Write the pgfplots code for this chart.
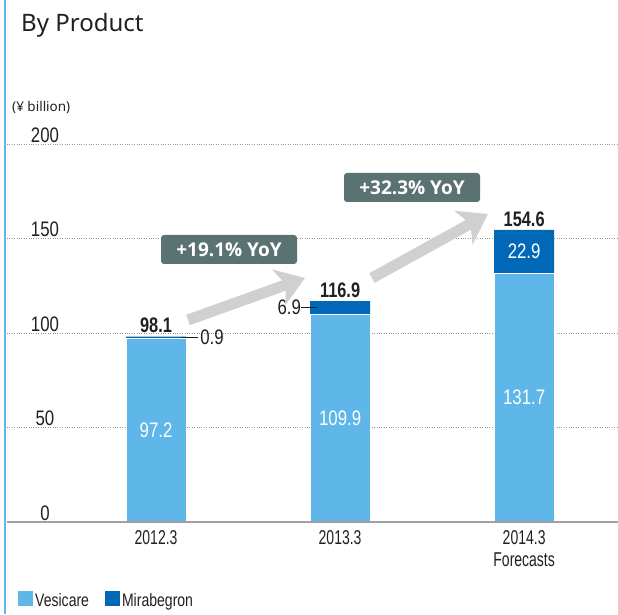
\documentclass[border=0pt]{standalone}
\usepackage{pgfplots}
\pgfplotsset{compat=1.18}
\usepackage{pgfplotstable}
\usetikzlibrary{arrows.meta}
\usepackage{fontspec}
\setmainfont{Noto Sans}
\newfontfamily\cond[FakeStretch=0.78]{Liberation Sans}
\newfontfamily\condx[FakeStretch=0.70]{Liberation Sans}
\newfontfamily\condl[FakeStretch=0.80]{Liberation Sans}
\newfontfamily\condb[FakeStretch=0.78]{Liberation Sans Bold}
\newfontfamily\boxfont{Open Sans}
\newcommand\numfont{\condl\fontsize{21pt}{23pt}\selectfont}
\newcommand\xfont{\condx\fontsize{20pt}{22pt}\selectfont}
\newcommand\totfont{\condb\fontsize{21pt}{23pt}\selectfont}
\definecolor{vesblue}{RGB}{94,182,233}
\definecolor{mirblue}{RGB}{0,104,183}
\definecolor{boxgray}{RGB}{91,114,114}
\definecolor{arrowgray}{RGB}{208,208,208}
\definecolor{txt}{RGB}{35,31,32}
\definecolor{gridgray}{RGB}{150,150,150}
\definecolor{axisgray}{RGB}{160,160,160}
\pgfplotstableread{
x ves mir tot
0 97.2 0.9 98.1
1 109.9 6.9 116.9
2 131.7 22.9 154.6
}\data
\begin{document}
\begin{tikzpicture}
\path[use as bounding box] (0pt,0pt) rectangle (618pt,614pt);
\begin{axis}[
  at={(7pt,92pt)}, anchor=south west,
  scale only axis, width=611pt, height=378pt,
  xmin=-0.81, xmax=2.51, ymin=0, ymax=200,
  axis line style={draw=none},
  ytick={0,50,100,150,200},
  xtick={0,1,2}, xticklabels={2012.3,2013.3,{2014.3\\Forecasts}},
  major tick length=0pt,
  ymajorgrids, grid style={dotted, color=gridgray, line width=0.8pt},
  /pgf/number format/assume math mode=true,
  yticklabel style={font=\numfont, anchor=south, xshift=38pt, yshift=-2pt, text=txt},
  xticklabel style={font=\xfont, align=center, text=txt, yshift=-5pt},
  clip=false,
  legend image code/.code={\fill[#1] (0pt,-5pt) rectangle (15pt,10pt);},
  legend style={at={(axis description cs:0,0)}, anchor=north west, xshift=8pt, yshift=-67pt,
    draw=none, fill=none, legend columns=2, font=\cond\fontsize{18pt}{21pt}\selectfont,
    text=txt, /tikz/every even column/.append style={column sep=14pt}},
  legend cell align=left,
]
\addlegendimage{fill=vesblue, draw=none}
\addlegendentry{Vesicare}
\addlegendimage{fill=mirblue, draw=none}
\addlegendentry{Mirabegron}
% total (Vesicare + Mirabegron) bars in dark blue
\addplot[ybar, bar shift=0pt, bar width=60pt, fill=mirblue, draw=none, forget plot,
  nodes near coords, point meta=explicit symbolic,
  nodes near coords style={font=\totfont, text=txt, anchor=south}]
  table[x=x, y=tot, meta=tot] {\data};
% Vesicare bars over them
\addplot[ybar, bar shift=0pt, bar width=60pt, fill=vesblue, draw=white, line width=1pt, forget plot]
  table[x=x, y=ves] {\data};
% Vesicare labels centred in bars
\addplot[draw=none, mark=none, forget plot,
  nodes near coords, point meta=explicit symbolic,
  nodes near coords style={font=\numfont, text=white, anchor=center}]
  table[x=x, y expr=\thisrow{ves}/2, meta=ves] {\data};
% Mirabegron labels
\addplot[draw=none, mark=none, forget plot,
  nodes near coords, point meta=explicit symbolic,
  nodes near coords style={font=\numfont, text=white, anchor=center}]
  coordinates {(2,143.15) [22.9]};
\addplot[draw=none, mark=none, forget plot,
  nodes near coords, point meta=explicit symbolic,
  nodes near coords style={font=\numfont, text=txt, anchor=west, inner sep=0pt, xshift=44pt}]
  coordinates {(0,97.65) [0.9]};
\addplot[draw=none, mark=none, forget plot,
  nodes near coords, point meta=explicit symbolic,
  nodes near coords style={font=\numfont, text=txt, anchor=east, inner sep=0pt, xshift=-39pt}]
  coordinates {(1,113.35) [6.9]};
\draw[txt, line width=0.8pt] ([xshift=25pt]axis cs:0,97.65) -- ([xshift=42pt]axis cs:0,97.65);
\draw[txt, line width=0.8pt] ([xshift=-39pt]axis cs:1,113.35) -- ([xshift=-23pt]axis cs:1,113.35);
\draw[axisgray, line width=2pt] (rel axis cs:0,0) -- (rel axis cs:1,0);
\end{axis}
% left accent line
\draw[vesblue, line width=2.5pt] (5pt,0pt) -- (5pt,614pt);
% title and unit
\node[anchor=base west, inner sep=0pt, text=txt, font=\fontsize{24pt}{28pt}\selectfont] at (21pt,582pt) {By Product};
\node[anchor=base west, inner sep=0pt, text=txt, font=\fontsize{13.5pt}{16pt}\selectfont] at (12pt,502pt) {(¥ billion)};
% growth arrows
\draw[arrowgray, line width=11pt, -{Stealth[length=28pt, width=38pt, inset=8pt]}] (188pt,294pt) -- (305pt,336pt);
\draw[arrowgray, line width=11pt, -{Stealth[length=28pt, width=38pt, inset=8pt]}] (372pt,336pt) -- (488pt,400pt);
% YoY boxes
\node[fill=boxgray, rounded corners=3pt, minimum width=136pt, minimum height=29pt, inner sep=0pt,
  text=white, font=\boxfont\bfseries\fontsize{19pt}{21pt}\selectfont] at (229pt,364.5pt) {+19.1\% YoY};
\node[fill=boxgray, rounded corners=3pt, minimum width=136pt, minimum height=29pt, inner sep=0pt,
  text=white, font=\boxfont\bfseries\fontsize{19pt}{21pt}\selectfont] at (412pt,426.5pt) {+32.3\% YoY};
\end{tikzpicture}
\end{document}
